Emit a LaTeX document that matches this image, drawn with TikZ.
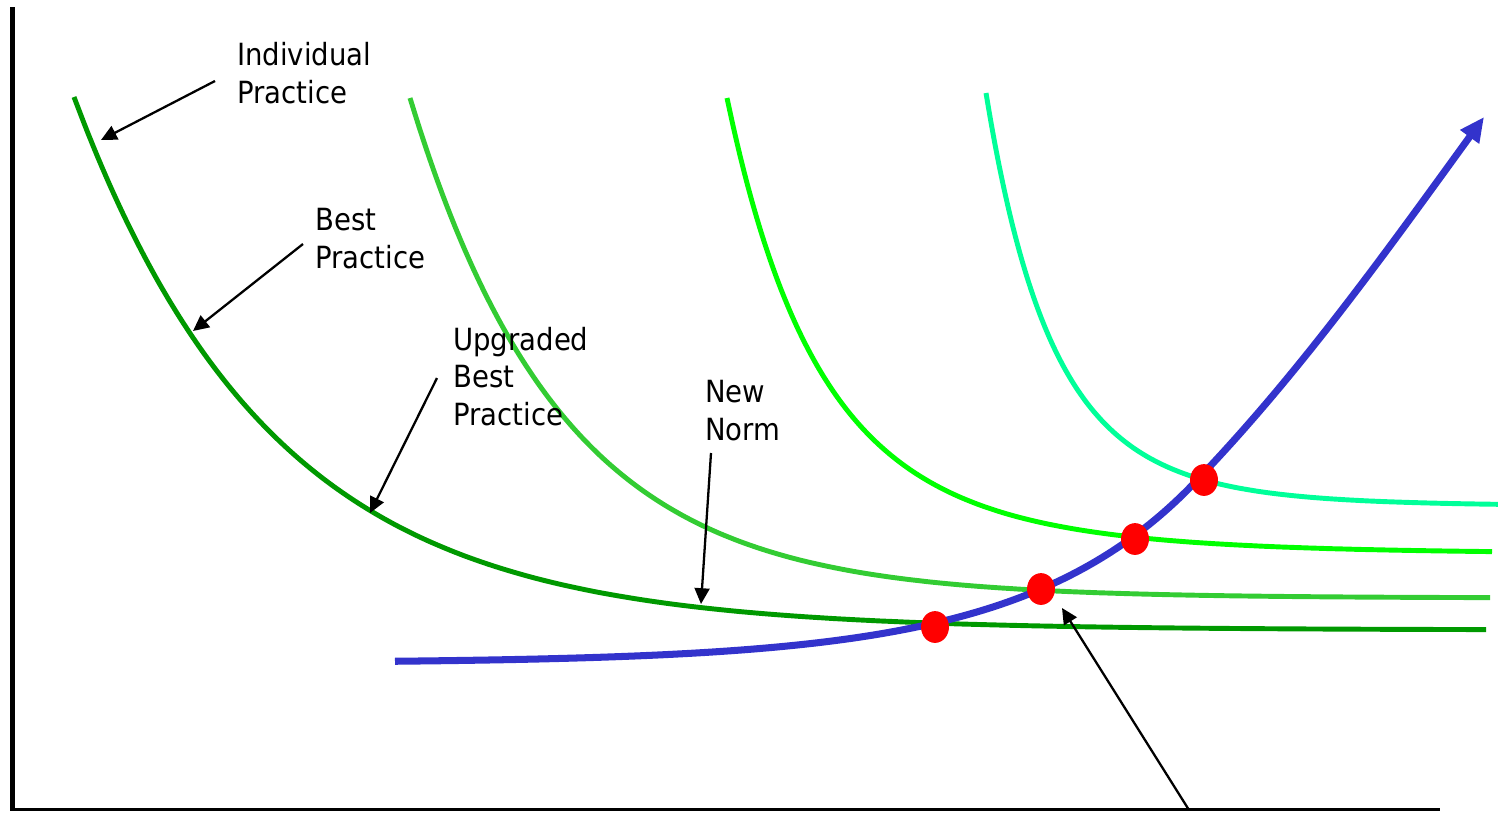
\documentclass[tikz,border=0pt]{standalone}
\usepackage{fontspec}
\setmainfont{DejaVu Sans Condensed}
\usetikzlibrary{arrows.meta,shapes.geometric}

\definecolor{practiceA}{RGB}{0,153,0}
\definecolor{practiceB}{RGB}{51,204,51}
\definecolor{practiceC}{RGB}{0,255,0}
\definecolor{practiceD}{RGB}{0,255,153}
\definecolor{normblue}{RGB}{51,51,204}

\tikzset{
    practice/.style={line width=2.8pt},
    label text/.style={font=\fontsize{17.4}{21.3}\selectfont, align=left, anchor=base west, inner sep=0pt},
    pointer/.style={line width=1.3pt, -{Triangle[length=9pt,width=8.5pt]}},
    crossing/.style={ellipse, fill=red, minimum width=15.9pt, minimum height=18.1pt, inner sep=0pt},
}

\begin{document}
\begin{tikzpicture}[x=0.02cm, y=-0.02cm]
    \useasboundingbox (0,0) rectangle (1498,812);
    % axes
    \draw[line width=3.4pt] (12.5,7) -- (12.5,810);
    \draw[line width=1.4pt] (10,809.5) -- (1440,809.5);

    % practice curves
    \draw[practice, practiceA] plot[domain=74:1486, samples=120, smooth] (\x, {630-533*exp(-0.00505*(\x-74))});
    \draw[practice, practiceB] plot[domain=410:1490, samples=120, smooth] (\x, {598-500*exp(-0.0066*(\x-410))});
    \draw[practice, practiceC] plot[domain=727:1492, samples=120, smooth] (\x, {554-456*exp(-6.56*ln(1+0.0016*(\x-727)))});
    \draw[practice, practiceD] plot[domain=986:1498, samples=120, smooth] (\x, {506-413*exp(-8.8*ln(1+0.0017*(\x-986)))});

    % the norm rising through them
    \draw[normblue, line width=4pt, -{Triangle[length=14pt,width=12.5pt]}] plot[domain=395:1200, samples=100, smooth] (\x, {663-74*exp(0.0058*(\x-1041))})
        .. controls (1300,372) and (1384,255) .. (1484,117);

    \node[crossing] (cross1) at (935,627) {};
    \node[crossing] (cross2) at (1041,589) {};
    \node[crossing] (cross3) at (1135,539) {};
    \node[crossing] (cross4) at (1204,480) {};

    % labels
    \node[label text] (indiv) at (237,103) {Individual\\Practice};
    \node[label text] (best) at (315,268) {Best\\Practice};
    \node[label text] (upgraded) at (453,425) {Upgraded\\Best\\Practice};
    \node[label text] (newnorm) at (705,440) {New\\Norm};

    \coordinate (onA1) at (101,140);
    \coordinate (onA2) at (193,331);
    \coordinate (onA3) at (370,513);
    \coordinate (onA4) at (701,604);
    \coordinate (nearB) at (1062,608);
    \coordinate (foot) at (1189,810);

    \draw[pointer] ([shift={(-22,-22)}]indiv.base west) -- (onA1);
    \draw[pointer] ([shift={(-12,-24)}]best.base west) -- (onA2);
    \draw[pointer] ([shift={(-16,-47)}]upgraded.base west) -- (onA3);
    \draw[pointer] ([shift={(6,13)}]newnorm.base west) -- (onA4);
    \draw[pointer] (foot) -- (nearB);
\end{tikzpicture}
\end{document}
